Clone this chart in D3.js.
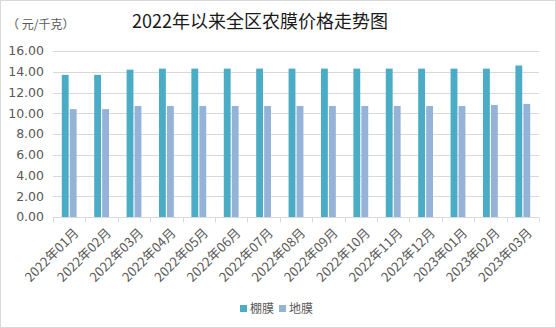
<!DOCTYPE html>
<html>
<head>
<meta charset="utf-8">
<script src="https://cdn.jsdelivr.net/npm/d3@7"></script>
<style>
  html, body { margin: 0; padding: 0; background: #fff; }
  svg { display: block; font-family: "Noto Sans CJK SC", "DejaVu Sans", sans-serif; }
</style>
</head>
<body>
<svg id="chart" width="556" height="328"></svg>
<script>
// Monthly agricultural film prices (yuan/kg)
const months = ["2022年01月","2022年02月","2022年03月","2022年04月","2022年05月","2022年06月","2022年07月","2022年08月","2022年09月","2022年10月","2022年11月","2022年12月","2023年01月","2023年02月","2023年03月"];
const shedFilm = [13.7, 13.7, 14.2, 14.3, 14.3, 14.3, 14.3, 14.3, 14.3, 14.3, 14.3, 14.3, 14.3, 14.3, 14.6];
const mulchFilm = [10.4, 10.4, 10.7, 10.7, 10.7, 10.7, 10.7, 10.7, 10.7, 10.7, 10.7, 10.7, 10.7, 10.8, 10.9];
const seriesNames = ["棚膜", "地膜"];
const yTicks = [0, 2, 4, 6, 8, 10, 12, 14, 16];

const colors = ["#4bacc6", "#95b3d7"];
const svg = d3.select("#chart");
const W = 556, H = 328;
const m = { left: 53, right: 17, top: 51, bottom: 111 };

// outer frame
svg.append("rect").attr("x", 0.5).attr("y", 0.5).attr("width", W - 1).attr("height", H - 1)
  .attr("fill", "#fff").attr("stroke", "#d9d9d9");

const x = d3.scaleBand().domain(months).range([m.left, W - m.right]).paddingInner(0).paddingOuter(0);
const y = d3.scaleLinear().domain([0, 16]).range([H - m.bottom, m.top]);
const inner = d3.scaleBand().domain(seriesNames).range([0, x.bandwidth()]).paddingInner(0.14).paddingOuter(1.1);

// gridlines
svg.append("g").selectAll("line").data(yTicks.slice(1)).join("line")
  .attr("x1", m.left).attr("x2", W - m.right)
  .attr("y1", d => Math.round(y(d)) + 0.5).attr("y2", d => Math.round(y(d)) + 0.5)
  .attr("stroke", "#d9d9d9").attr("stroke-width", 1);

// y labels
svg.append("g").selectAll("text").data(yTicks).join("text")
  .attr("x", 44).attr("y", d => y(d)).attr("dy", "0.35em")
  .attr("text-anchor", "end").attr("font-size", 12.5).attr("fill", "#595959")
  .attr("font-family", "DejaVu Sans, sans-serif")
  .text(d => d.toFixed(2));

// bars
const data = months.map((mo, i) => ({ mo, vals: [shedFilm[i], mulchFilm[i]] }));
const groups = svg.append("g").selectAll("g").data(data).join("g")
  .attr("transform", d => `translate(${x(d.mo)},0)`);
groups.selectAll("rect").data(d => d.vals.map((v, k) => ({ v, k }))).join("rect")
  .attr("x", d => inner(seriesNames[d.k]))
  .attr("width", inner.bandwidth())
  .attr("y", d => y(d.v))
  .attr("height", d => y(0) - y(d.v))
  .attr("fill", d => colors[d.k]);

// x axis
const xAxis = svg.append("g").attr("transform", `translate(0,${Math.round(y(0)) + 0.5})`);
xAxis.append("line").attr("x1", m.left).attr("x2", W - m.right).attr("stroke", "#d9d9d9");
const bounds = months.map(mo => x(mo)).concat([W - m.right]);
xAxis.selectAll("line.tick").data(bounds).join("line").attr("class", "tick")
  .attr("x1", d => Math.round(d) + 0.5).attr("x2", d => Math.round(d) + 0.5)
  .attr("y1", 0).attr("y2", 5).attr("stroke", "#d9d9d9");
xAxis.selectAll("text").data(months).join("text")
  .attr("transform", d => `translate(${x(d) + x.bandwidth() / 2 + 7},${13}) rotate(-45)`)
  .attr("text-anchor", "end").attr("font-size", 13).attr("fill", "#595959")
  .attr("dy", "0.35em")
  .text(d => d);

// title and unit
svg.append("text").attr("x", 260).attr("y", 28).attr("text-anchor", "middle")
  .attr("font-size", 18).attr("fill", "#1a1a1a")
  .text("2022年以来全区农膜价格走势图");
svg.append("text").attr("x", 7).attr("y", 29).attr("font-size", 12).attr("fill", "#595959")
  .attr("font-family", "'Noto Sans CJK SC', sans-serif")
  .text("（ 元/千克）");

// legend
const leg = svg.append("g").attr("transform", "translate(240,304)");
seriesNames.forEach((s, i) => {
  const g = leg.append("g").attr("transform", `translate(${i * 39},0)`);
  g.append("rect").attr("width", 7).attr("height", 7).attr("y", 1).attr("fill", colors[i]);
  g.append("text").attr("x", 10).attr("y", 4.5).attr("dy", "0.35em")
    .attr("font-size", 12).attr("fill", "#595959").text(s);
});
</script>
</body>
</html>
